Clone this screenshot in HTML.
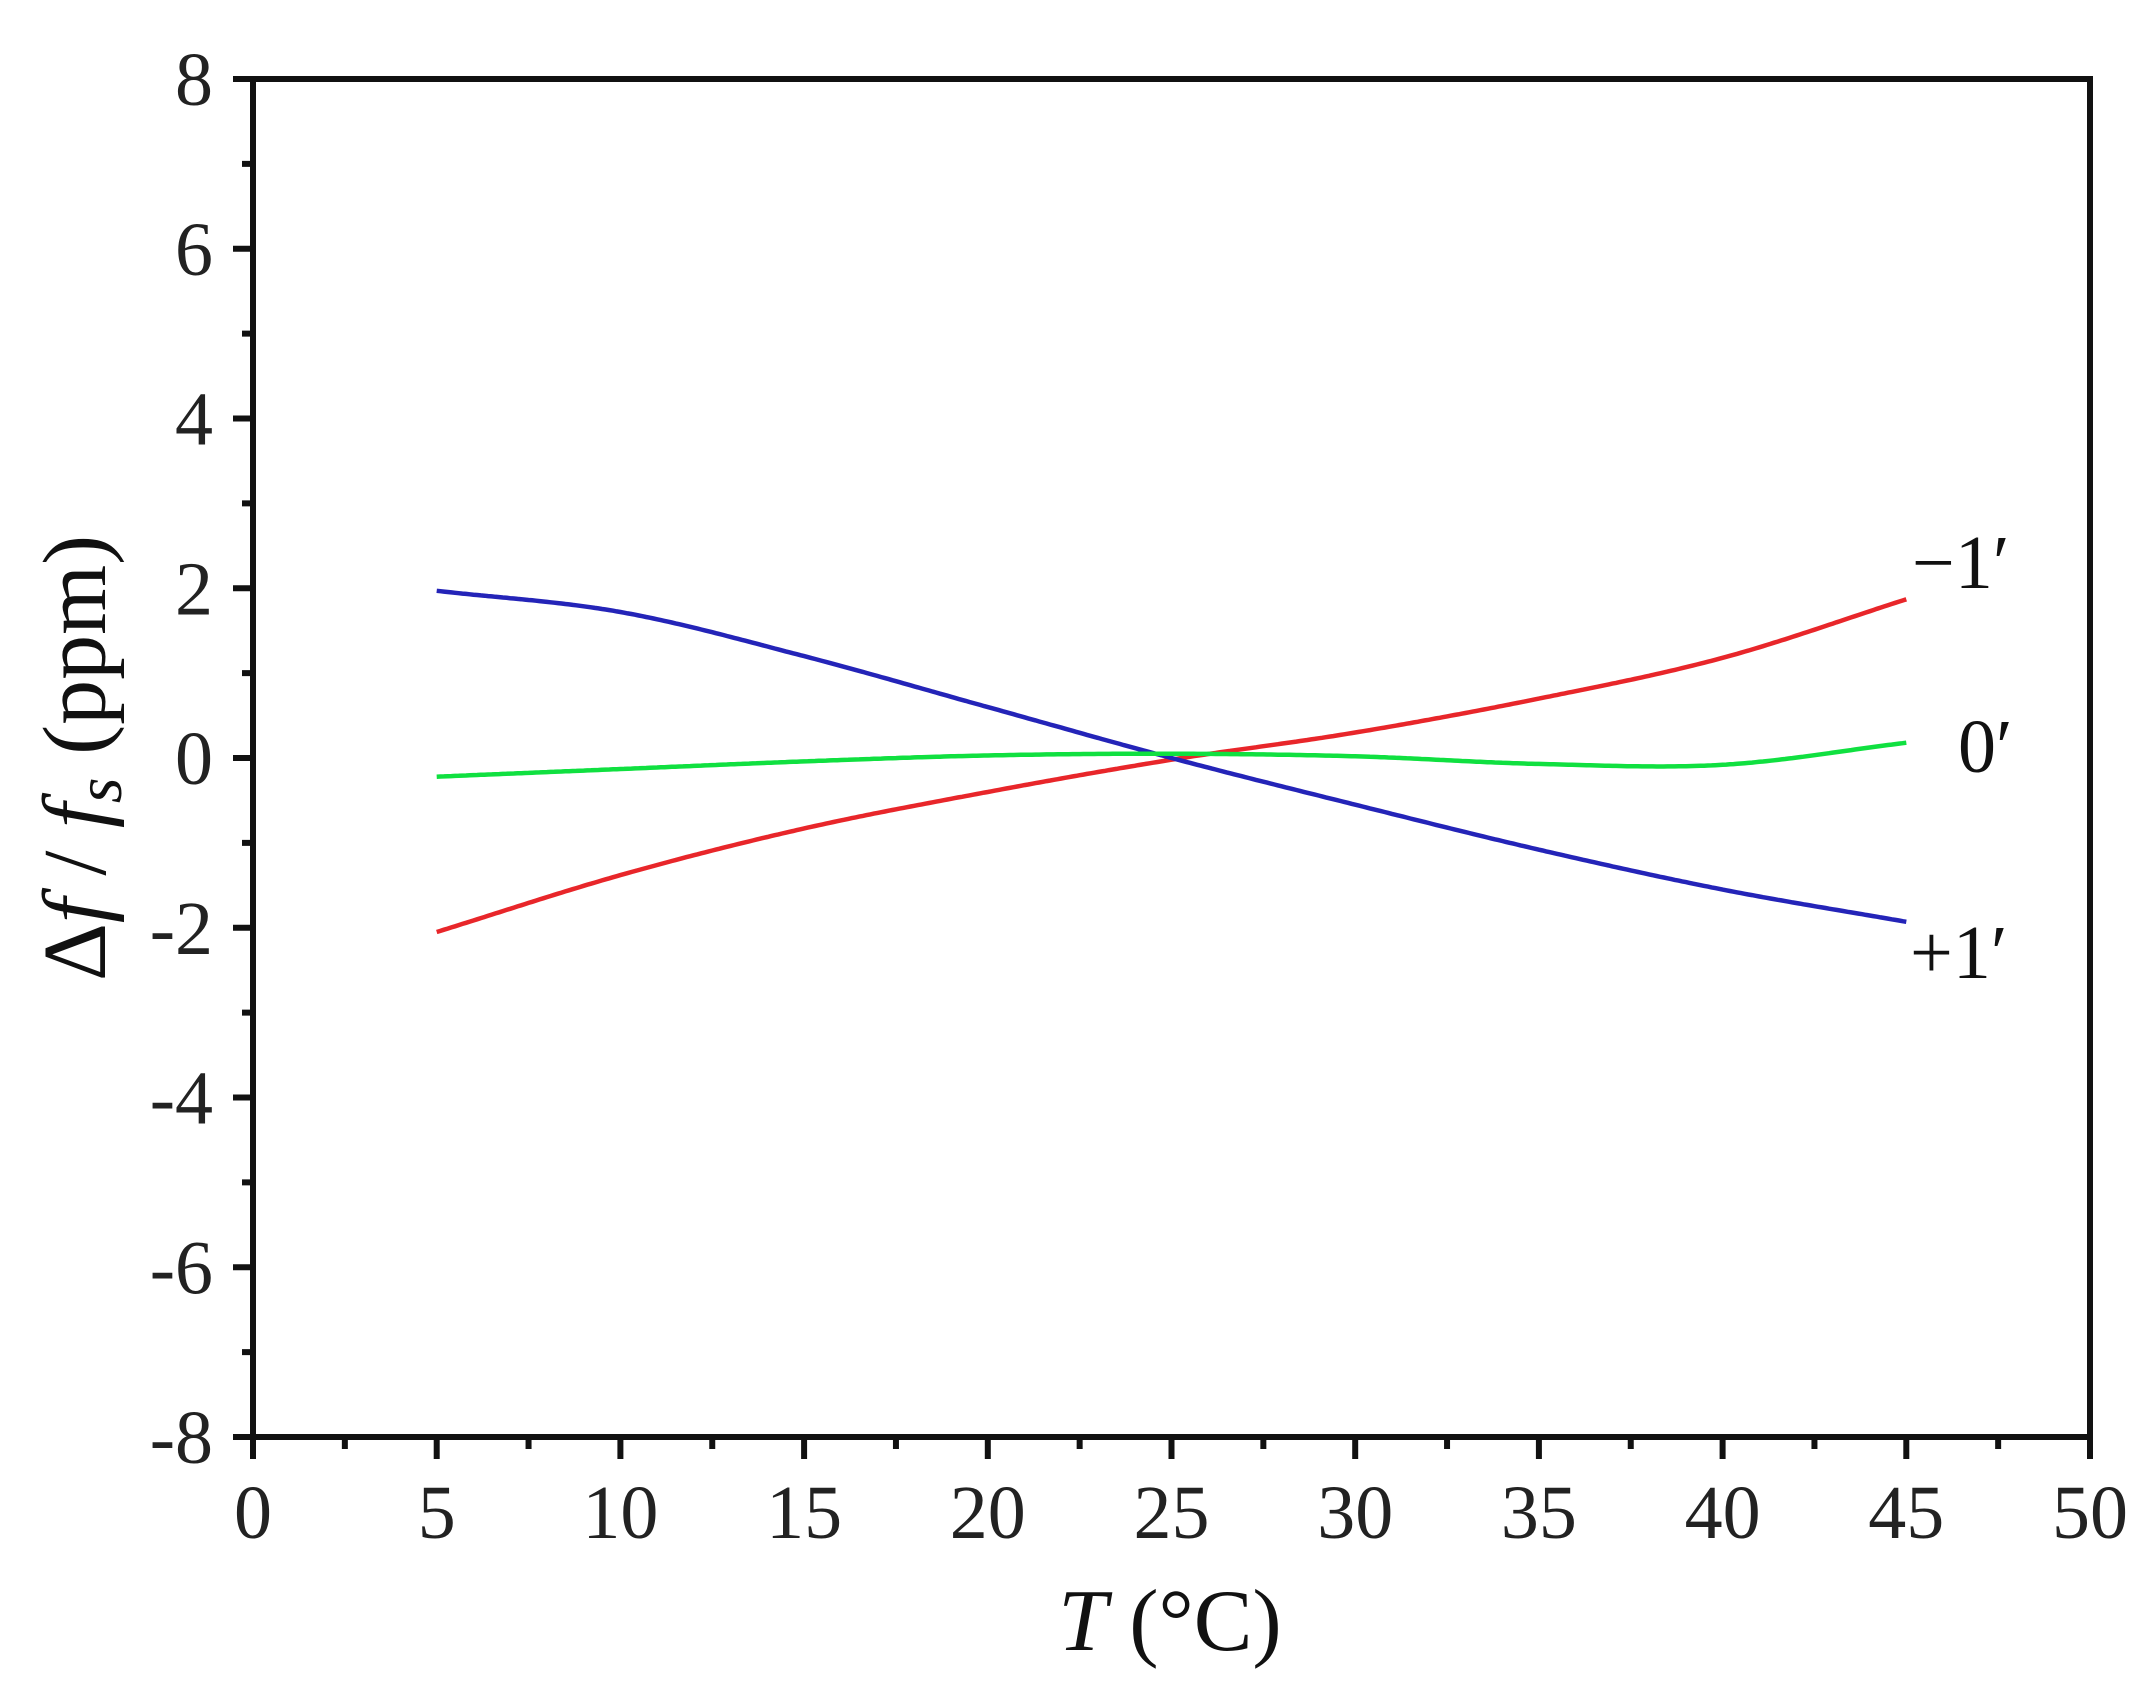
<!DOCTYPE html>
<html><head><meta charset="utf-8"><style>
html,body{margin:0;padding:0;background:#fff;}
svg{display:block;font-family:"Liberation Serif",serif;}
</style></head><body>
<svg id="s" width="2156" height="1688" viewBox="0 0 2156 1688" xmlns="http://www.w3.org/2000/svg">
<rect width="2156" height="1688" fill="#fff"/>
<g id="ticks" stroke="#111" stroke-width="6"></g>
<g id="curves" fill="none" stroke-width="4.5"></g>
<rect x="253" y="79" width="1837" height="1358" fill="none" stroke="#111" stroke-width="6"/>
<g id="labels" fill="#222" font-size="76"></g>
<text x="1170" y="1650" font-size="88" text-anchor="middle" fill="#111"><tspan font-style="italic">T</tspan> (°C)</text>
<text transform="translate(105,758) rotate(-90)" font-size="90" text-anchor="middle" fill="#111">Δ<tspan font-style="italic">f</tspan> / <tspan font-style="italic">f</tspan><tspan font-size="66" dy="16" font-style="italic">s</tspan><tspan dy="-16"> (ppm)</tspan></text>
<text x="1912" y="588" font-size="76" fill="#111">−1′</text>
<text x="1958" y="772" font-size="76" fill="#111">0′</text>
<text x="1910" y="978" font-size="76" fill="#111">+1′</text>
</svg>
<script>
var X0=253,X1=2090,Y8=79,Ym8=1437;
function px(t){return X0+(X1-X0)*t/50;}
function py(v){return Y8+(Ym8-Y8)*(8-v)/16;}
var ns="http://www.w3.org/2000/svg";
var tk=document.getElementById('ticks'),lb=document.getElementById('labels');
function line(x1,y1,x2,y2){var l=document.createElementNS(ns,'line');l.setAttribute('x1',x1);l.setAttribute('y1',y1);l.setAttribute('x2',x2);l.setAttribute('y2',y2);tk.appendChild(l);}
function txt(x,y,s,a){var t=document.createElementNS(ns,'text');t.setAttribute('x',x);t.setAttribute('y',y);t.setAttribute('text-anchor',a);t.textContent=s;lb.appendChild(t);}
for(var v=-8;v<=8;v++){var y=py(v);if(v%2==0){line(X0-20,y,X0,y);txt(X0-40,y+26,String(v),'end');}else line(X0-11,y,X0,y);}
for(var t=0;t<=50;t+=2.5){var x=px(t);if(t%5==0){line(x,Ym8,x,Ym8+22);txt(x,1538,String(t),'middle');}else line(x,Ym8,x,Ym8+12);}
var T=[5,10,15,20,25,30,35,40,45];
var data={
'#e8262a':[-2.05,-1.38,-0.83,-0.4,-0.02,0.3,0.7,1.18,1.87],
'#2424b8':[1.97,1.72,1.2,0.6,0,-0.55,-1.08,-1.55,-1.93],
'#10e040':[-0.22,-0.13,-0.04,0.03,0.05,0.02,-0.07,-0.08,0.18]};
var cg=document.getElementById('curves');
for(var c in data){var v=data[c],d='';
 for(var k=0;k<=400;k++){var tt=5+40*k/400;var i=Math.min(7,Math.floor((tt-5)/5));var u=(tt-T[i])/5;
  var p0=i>0?v[i-1]:2*v[0]-v[1],p1=v[i],p2=v[i+1],p3=i<7?v[i+2]:2*v[8]-v[7];
  var val=0.5*((2*p1)+(-p0+p2)*u+(2*p0-5*p1+4*p2-p3)*u*u+(-p0+3*p1-3*p2+p3)*u*u*u);
  d+=(k?'L':'M')+px(tt).toFixed(1)+' '+py(val).toFixed(1);}
 var p=document.createElementNS(ns,'path');p.setAttribute('d',d);p.setAttribute('stroke',c);cg.appendChild(p);}
</script>
</body></html>
